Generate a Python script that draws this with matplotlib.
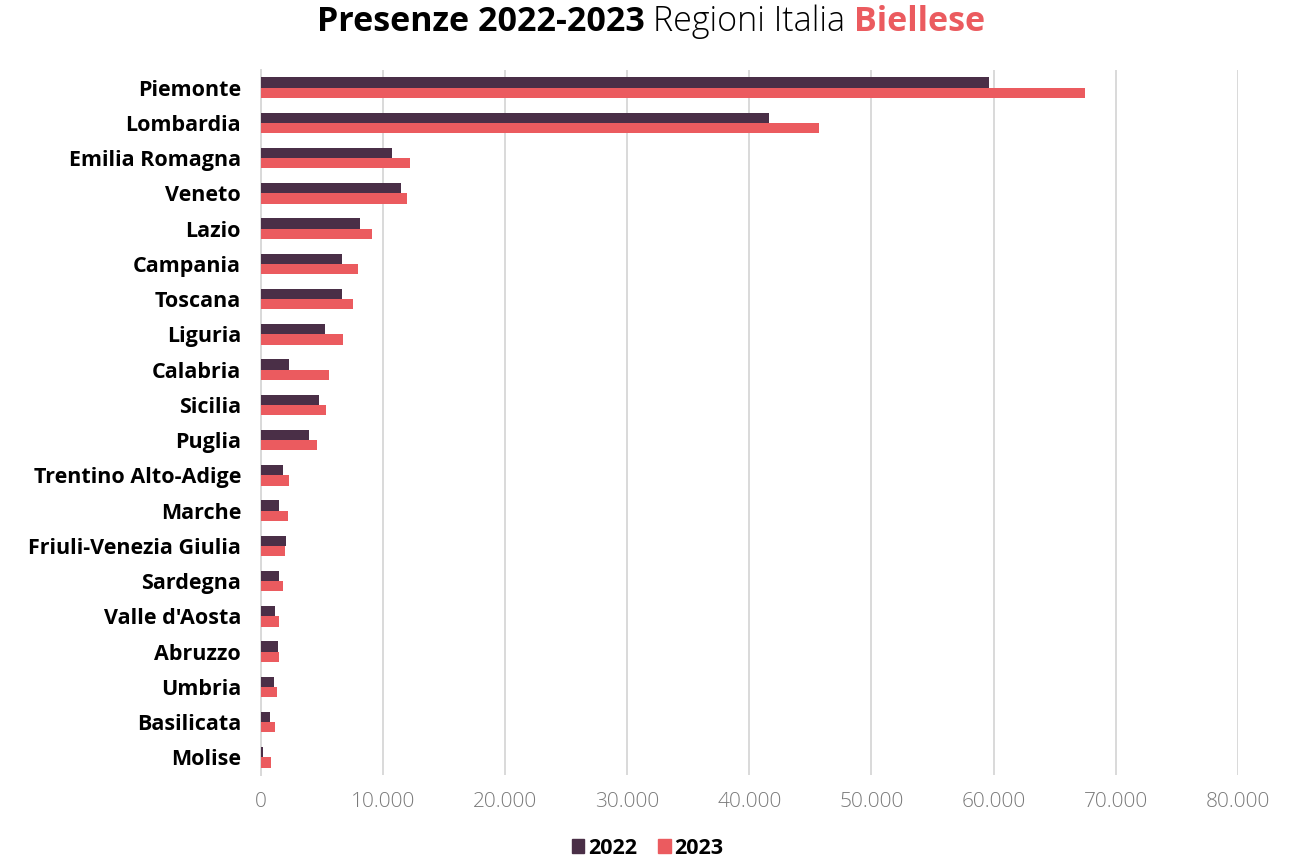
import matplotlib
matplotlib.use("Agg")
import matplotlib.pyplot as plt
from matplotlib.ticker import FuncFormatter
from matplotlib.patches import Patch
import numpy as np

regions = ["Piemonte", "Lombardia", "Emilia Romagna", "Veneto", "Lazio", "Campania",
           "Toscana", "Liguria", "Calabria", "Sicilia", "Puglia", "Trentino Alto-Adige",
           "Marche", "Friuli-Venezia Giulia", "Sardegna", "Valle d'Aosta", "Abruzzo",
           "Umbria", "Basilicata", "Molise"]
v2022 = [59600, 41600, 10780, 11490, 8140, 6660, 6660, 5270, 2300, 4810, 3990, 1840,
         1540, 2110, 1540, 1190, 1460, 1080, 800, 230]
v2023 = [67470, 45690, 12250, 11950, 9090, 7970, 7590, 6750, 5630, 5360, 4620, 2300,
         2220, 2000, 1810, 1540, 1540, 1350, 1190, 880]
xticks = [0, 10000, 20000, 30000, 40000, 50000, 60000, 70000, 80000]

C22 = "#4A2F47"
C23 = "#EB5B5F"
FONT = "Open Sans"

plt.rcParams["font.family"] = [FONT, "DejaVu Sans"]

fig = plt.figure(figsize=(12.95, 8.59), dpi=100)
ax = fig.add_axes([260.5 / 1295, 1 - 775 / 859, (1238 - 260.5) / 1295, (775 - 70) / 859])

y = np.arange(len(regions))
h = 0.29
ax.barh(y - h / 2, v2022, height=h, color=C22, label="2022", zorder=3)
ax.barh(y + h / 2, v2023, height=h, color=C23, label="2023", zorder=3)

ax.set_ylim(len(regions) - 0.5, -0.5)
ax.set_xlim(0, 80000)
ax.set_xticks(xticks)
ax.xaxis.set_major_formatter(FuncFormatter(lambda v, p: f"{int(v):,}".replace(",", ".")))
ax.set_yticks(y)
ax.set_yticklabels(regions, fontsize=15.5, fontweight="bold", color="black")
ax.tick_params(axis="both", length=0)
ax.tick_params(axis="y", pad=14)
ax.tick_params(axis="x", pad=12, labelsize=15, labelcolor="#7A7A7A")
for lab in ax.get_xticklabels():
    lab.set_fontweight("light")

ax.grid(axis="x", color="#D9D9D9", linewidth=1.4, zorder=0)
for s in ["top", "right", "bottom"]:
    ax.spines[s].set_visible(False)
ax.spines["left"].set_color("#D9D9D9")
ax.spines["left"].set_linewidth(1.4)

leg = fig.legend(handles=[Patch(color=C22, label="2022"), Patch(color=C23, label="2023")],
                 loc="center", bbox_to_anchor=(0.5, 1 - 848 / 859), ncol=2, frameon=False,
                 prop={"family": FONT, "weight": "bold", "size": 15.5},
                 handlelength=0.6, handleheight=0.6, handletextpad=0.15, columnspacing=1.0)

# Title composed of three parts
fig.canvas.draw()
r = fig.canvas.get_renderer()
parts = [("Presenze 2022-2023 ", "bold", "black"),
         ("Regioni Italia ", "light", "black"),
         ("Biellese", "bold", C23)]
fs = 24.5
texts = []
widths = []
for s, w, c in parts:
    t = fig.text(0, 0, s, fontsize=fs, fontweight=w, color=c, va="center", ha="left")
    bb = t.get_window_extent(renderer=r)
    texts.append(t)
    widths.append(bb.width)
total = sum(widths)
x0 = (651 - total / 2)
yt = 1 - 22 / 859
for t, wdt in zip(texts, widths):
    t.set_position((x0 / 1295, yt))
    x0 += wdt

fig.savefig("out.png", dpi=100)
